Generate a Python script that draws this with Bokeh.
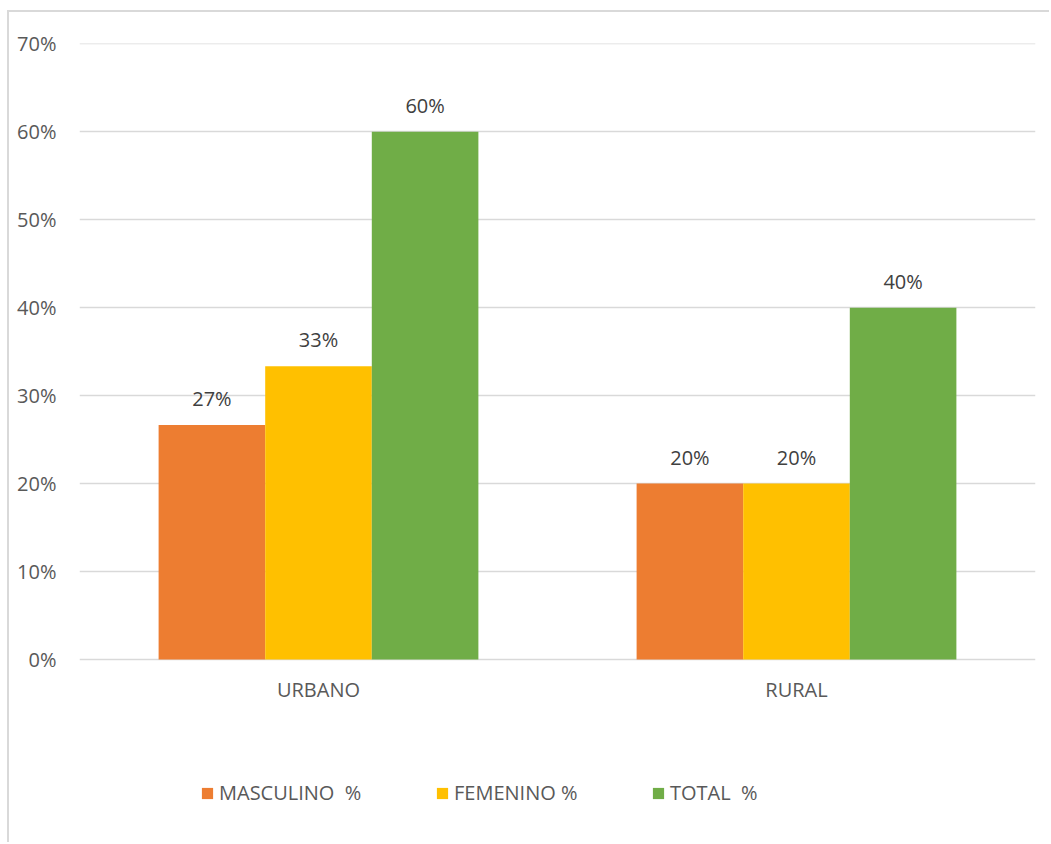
from bokeh.plotting import figure
from bokeh.models import ColumnDataSource, FactorRange, Range1d, NumeralTickFormatter, FixedTicker, Legend, LegendItem
from bokeh.transform import dodge
from bokeh.embed import file_html
from bokeh.resources import INLINE

categories = ["URBANO", "RURAL"]
masculino = [0.2667, 0.20]
femenino = [0.3333, 0.20]
total = [0.60, 0.40]
series_names = ["MASCULINO  %", "FEMENINO %", "TOTAL  %"]
colors = ["#ED7D31", "#FFC000", "#70AD47"]
y_ticks = [0, 0.1, 0.2, 0.3, 0.4, 0.5, 0.6, 0.7]

FONT = "Open Sans"

p = figure(x_range=FactorRange(*categories, range_padding=0), y_range=Range1d(-0.2102, 0.7002),
           width=1042, height=832, output_backend="svg", toolbar_location=None,
           min_border_left=70, min_border_right=16, min_border_top=31, min_border_bottom=0)
p.styles = {"margin-left": "7px", "margin-top": "10px",
            "border-left": "2px solid #d9d9d9", "border-top": "2px solid #d9d9d9"}
p.outline_line_color = None
p.background_fill_color = "white"
p.border_fill_color = "white"

src = ColumnDataSource(dict(cat=categories, m=masculino, f=femenino, t=total,
                            ml=[f"{round(v*100)}%" for v in masculino],
                            fl=[f"{round(v*100)}%" for v in femenino],
                            tl=[f"{round(v*100)}%" for v in total]))

bw = 0.223
offsets = [-bw, 0, bw]
renderers = []
for key, lab, off, col in zip(["m", "f", "t"], ["ml", "fl", "tl"], offsets, colors):
    r = p.vbar(x=dodge("cat", off, range=p.x_range), top=key, width=bw, source=src,
               fill_color=col, line_color=None)
    renderers.append(r)
    p.text(x=dodge("cat", off, range=p.x_range), y=key, text=lab, source=src,
           text_align="center", text_baseline="bottom", y_offset=-13,
           text_font_size="20px", text_color="#404040", text_font={"value": FONT})

p.xgrid.visible = False
p.ygrid.grid_line_color = "#d9d9d9"
p.ygrid.grid_line_width = 1.5
p.yaxis.ticker = FixedTicker(ticks=y_ticks)
p.yaxis.formatter = NumeralTickFormatter(format="0%")
p.xaxis.fixed_location = 0
for ax in [p.xaxis[0], p.yaxis[0]]:
    ax.axis_line_color = None
    ax.major_tick_line_color = None
    ax.minor_tick_line_color = None
    ax.major_label_text_font = FONT
    ax.major_label_text_font_size = "20px"
    ax.major_label_text_color = "#595959"
p.yaxis.major_label_standoff = 17
p.xaxis.major_label_standoff = 10

xs = [121, 356, 572]
for r, name, x in zip(renderers, series_names, xs):
    lg = Legend(items=[LegendItem(label=name, renderers=[r])], location=(x, 38),
                orientation="horizontal", padding=0, margin=0, border_line_color=None,
                background_fill_alpha=0, glyph_width=14, glyph_height=14, label_standoff=5,
                label_text_font=FONT, label_text_font_size="20px", label_text_color="#595959")
    p.add_layout(lg)

open("out.html", "w").write(file_html(p, INLINE))
